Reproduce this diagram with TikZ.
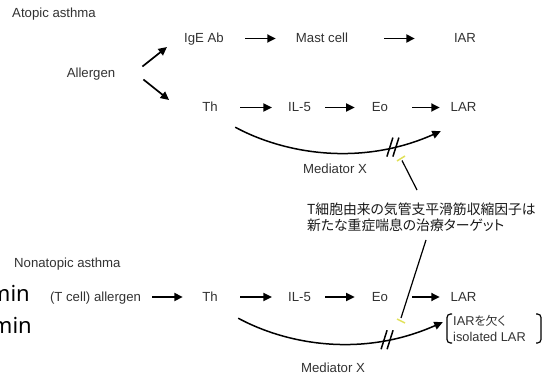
\documentclass[tikz,border=0pt]{standalone}
\usepackage{fontspec}
\setmainfont{Liberation Sans}
\newfontfamily\jpfont{Noto Sans CJK JP}[RawFeature=+palt]
\newfontfamily\minfont{Noto Sans}
\usetikzlibrary{arrows.meta,calc}
\definecolor{txt}{RGB}{50,50,50}
\definecolor{tickc}{RGB}{225,225,90}
\begin{document}
\begin{tikzpicture}[x=1pt,y=-1pt,
  lbl/.style={font=\fontsize{13.2}{15}\selectfont, text=txt, inner sep=0pt, text height=9.5pt, text depth=0.5pt, anchor=base},
  jpst/.style={font=\jpfont\fontsize{13.8}{16}\selectfont, text=black!90, inner sep=0pt, align=left, anchor=north west},
  isost/.style={font=\fontsize{12.8}{16}\selectfont, text=txt, inner sep=0pt, align=left, anchor=north west},
  minst/.style={font=\minfont\fontsize{22}{26}\selectfont, text=black, inner sep=0pt, anchor=base east},
  arr/.style={line width=1.7pt, -{Triangle[length=8.5pt,width=8pt]}},
  curv/.style={line width=1.5pt, -{Triangle[length=8.5pt,width=8pt]}},
  slash/.style={line width=1.5pt},
  ptr/.style={line width=1.2pt},
  tickst/.style={line width=1.5pt, draw=tickc},
  brk/.style={line width=1.2pt, rounded corners=3.5pt},
]
\useasboundingbox (0,0) rectangle (546,374);

% ---------- Atopic asthma ----------
\node[lbl, anchor=base west] (atopic) at (12,18) {Atopic asthma};
\node[lbl] (ige) at (204,43) {IgE Ab};
\node[lbl] (mast) at (322,43) {Mast cell};
\node[lbl] (iar) at (465,43) {IAR};
\node[lbl] (allergen) at (91,77.5) {Allergen};
\node[lbl] (th1) at (210,112) {Th};
\node[lbl] (il51) at (299.5,112) {IL-5};
\node[lbl] (eo1) at (380,112) {Eo};
\node[lbl] (lar1) at (463.5,112) {LAR};
\node[lbl] (med1) at (335,174) {Mediator X};

\draw[arr] ([shift={(27,-6.5)}]allergen.east) -- ([shift={(-17,8.5)}]ige.west);
\draw[arr] ([shift={(28,6.5)}]allergen.east) -- ([shift={(-33,-7.5)}]th1.west);
\draw[arr, shorten <=21pt, shorten >=20pt] (ige) -- (mast);
\draw[arr, shorten <=36pt, shorten >=39pt] (mast) -- (iar);
\draw[arr, shorten <=22.3pt, shorten >=16pt] (th1) -- (il51);
\draw[arr, shorten <=14pt, shorten >=17pt] (il51) -- (eo1);
\draw[arr, shorten <=24pt, shorten >=10.7pt] (eo1) -- (lar1);

\draw[curv] ([shift={(17.3,14.5)}]th1.south east) .. controls +(48,26) and +(-81,36) .. coordinate[pos=0.8] (s1) ([shift={(-9.7,18.5)}]lar1.south west);
\draw[slash] ([shift={(-6,9.5)}]s1) -- ([shift={(0,-9.5)}]s1);
\draw[slash] ([shift={(0,9.5)}]s1) -- ([shift={(6,-9.5)}]s1);

% ---------- Japanese note ----------
\node[jpst] (jp) at (307,203) {T細胞由来の気管支平滑筋収縮因子は\\新たな重症喘息の治療ターゲット};

\coordinate (t1) at (401,159);
\draw[tickst] ([shift={(-4,2)}]t1) -- ([shift={(4,-3)}]t1);
\draw[ptr] ([shift={(1,1.5)}]t1) -- ([shift={(110,-13)}]jp.north west);

% ---------- Nonatopic asthma ----------
\node[lbl, anchor=base west] (nonatopic) at (14,267.5) {Nonatopic asthma};
\node[minst] (min1) at (30,301) {min};
\node[minst] (min2) at (32,333) {min};
\node[lbl] (allergen2) at (95.5,301.5) {(T cell) allergen};
\node[lbl] (th2) at (210,301.5) {Th};
\node[lbl] (il52) at (299.5,301.5) {IL-5};
\node[lbl] (eo2) at (380,301.5) {Eo};
\node[lbl] (lar2) at (463.5,301.5) {LAR};
\node[lbl] (med2) at (333,372) {Mediator X};
\node[isost] (iso) at (453,315) {IAR{\jpfont\fontsize{12}{16}\selectfont を欠く}\\isolated LAR};

\draw[arr, shorten <=11pt, shorten >=19.3pt] (allergen2) -- (th2);
\draw[arr, shorten <=22.3pt, shorten >=16pt] (th2) -- (il52);
\draw[arr, shorten <=14pt, shorten >=17pt] (il52) -- (eo2);
\draw[arr, shorten <=24pt, shorten >=10.7pt] (eo2) -- (lar2);

\draw[curv] ([shift={(20.3,16)}]th2.south east) .. controls +(48,26) and +(-81,36) .. coordinate[pos=0.766] (s2) ([shift={(-7.7,20)}]lar2.south west);
\draw[slash] ([shift={(-6,9.5)}]s2) -- ([shift={(0,-9.5)}]s2);
\draw[slash] ([shift={(0,9.5)}]s2) -- ([shift={(6,-9.5)}]s2);

\draw[brk] (452,314) -- (447,314) -- (447,343) -- (452,343);
\draw[brk] (536,314) -- (541,314) -- (541,343) -- (536,343);

\coordinate (t2) at (401,321);
\draw[tickst] ([shift={(-4,-2)}]t2) -- ([shift={(4,2)}]t2);
\draw[ptr] ([shift={(0,-3)}]t2) -- ([shift={(119,37)}]jp.north west);
\end{tikzpicture}
\end{document}
